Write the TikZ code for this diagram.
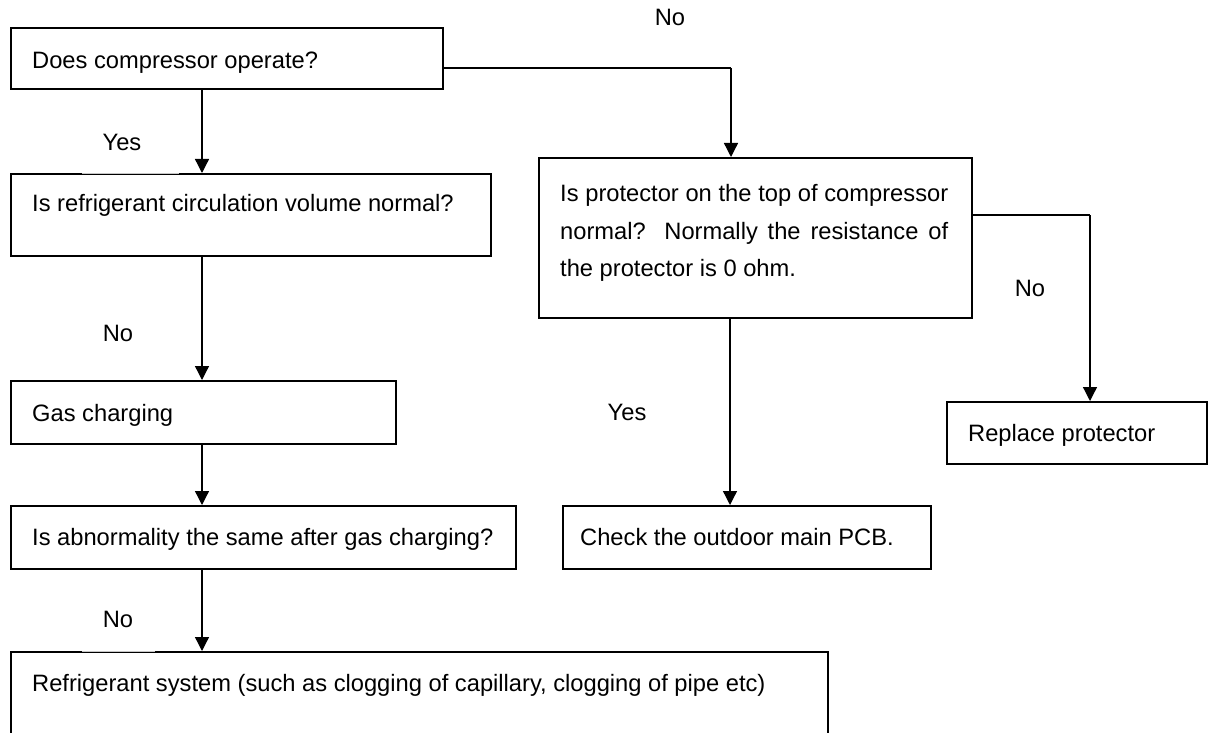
\documentclass[tikz,border=0pt]{standalone}
\usepackage{fontspec}
\setmainfont{Liberation Sans}
\usetikzlibrary{arrows.meta}
\begin{document}
\begin{tikzpicture}[x=1pt,y=-1pt,
  box/.style={draw=black,line width=1.6pt,inner sep=0pt,anchor=north west},
  txt/.style={inner sep=0pt,anchor=base west,font=\fontsize{23.7}{37.5}\selectfont},
  flow/.style={line width=1.3pt,-{Triangle[length=14pt,width=14pt]}},
  wire/.style={line width=1.3pt}]
\useasboundingbox (0,0) rectangle (1208,733);
\clip (0,0) rectangle (1208,733);

% boxes
\node[box,minimum width=432pt,minimum height=61pt]  (q1) at (10,27)  {};
\node[box,minimum width=480pt,minimum height=82pt]  (q2) at (10,173) {};
\node[box,minimum width=433pt,minimum height=160pt] (q3) at (538,157) {};
\node[box,minimum width=385pt,minimum height=63pt]  (q4) at (10,380) {};
\node[box,minimum width=505pt,minimum height=63pt]  (q5) at (10,505) {};
\node[box,minimum width=368pt,minimum height=63pt]  (q6) at (562,505) {};
\node[box,minimum width=260pt,minimum height=62pt]  (q7) at (946,401) {};
\node[box,minimum width=817pt,minimum height=110pt] (q8) at (10,651) {};

% box texts
\node[txt] (t1) at (32,68.5)  {Does compressor operate?};
\node[txt] (t2) at (32,211.5) {Is refrigerant circulation volume normal?};
\node[txt] (t3) at (560,201.5) {\parbox[t]{388pt}{\baselineskip=37.5pt
  Is protector on the top of compressor\linebreak
  normal? Normally the resistance of\linebreak
  the protector is 0 ohm.}};
\node[txt] (t4) at (32,421.5) {Gas charging};
\node[txt] (t5) at (32,545.5) {Is abnormality the same after gas charging?};
\node[txt] (t6) at (580,545.5) {Check the outdoor main PCB.};
\node[txt] (t7) at (968,441.5) {Replace protector};
\node[txt] (t8) at (32,691.5) {Refrigerant system (such as clogging of capillary, clogging of pipe etc)};

% faint breaks in the box tops behind the left labels
\draw[white,line width=2.2pt] (82,173) -- (179,173);
\draw[gray!45,line width=0.8pt] (82,173) -- (179,173);
\draw[white,line width=2.2pt] (82,651) -- (155,651);
\draw[gray!45,line width=0.8pt] (82,651) -- (155,651);

% routing points
\coordinate (spine) at (202,0);
\coordinate (elbowA) at (731,68);
\coordinate (midB) at (730,0);
\coordinate (elbowC) at (1090,215);

% connectors
\draw[flow] (q1.south -| spine) -- (q2.north -| spine);
\draw[flow] (q2.south -| spine) -- (q4.north -| spine);
\draw[flow] (q4.south -| spine) -- (q5.north -| spine);
\draw[flow] (q5.south -| spine) -- (q8.north -| spine);
\draw[wire] (q1.east |- elbowA) -- (elbowA);
\draw[flow] (elbowA) -- (q3.north -| elbowA);
\draw[flow] (q3.south -| midB) -- (q6.north -| midB);
\draw[wire] (q3.east |- elbowC) -- (elbowC);
\draw[flow] (elbowC) -- (q7.north -| elbowC);

% branch labels
\node[txt,anchor=center] (l1) at (670,17)  {No};
\node[txt,anchor=center] (l2) at (122,142) {Yes};
\node[txt,anchor=center] (l3) at (118,333) {No};
\node[txt,anchor=center] (l4) at (627,412) {Yes};
\node[txt,anchor=center] (l5) at (1030,288) {No};
\node[txt,anchor=center] (l6) at (118,619) {No};
\end{tikzpicture}
\end{document}
